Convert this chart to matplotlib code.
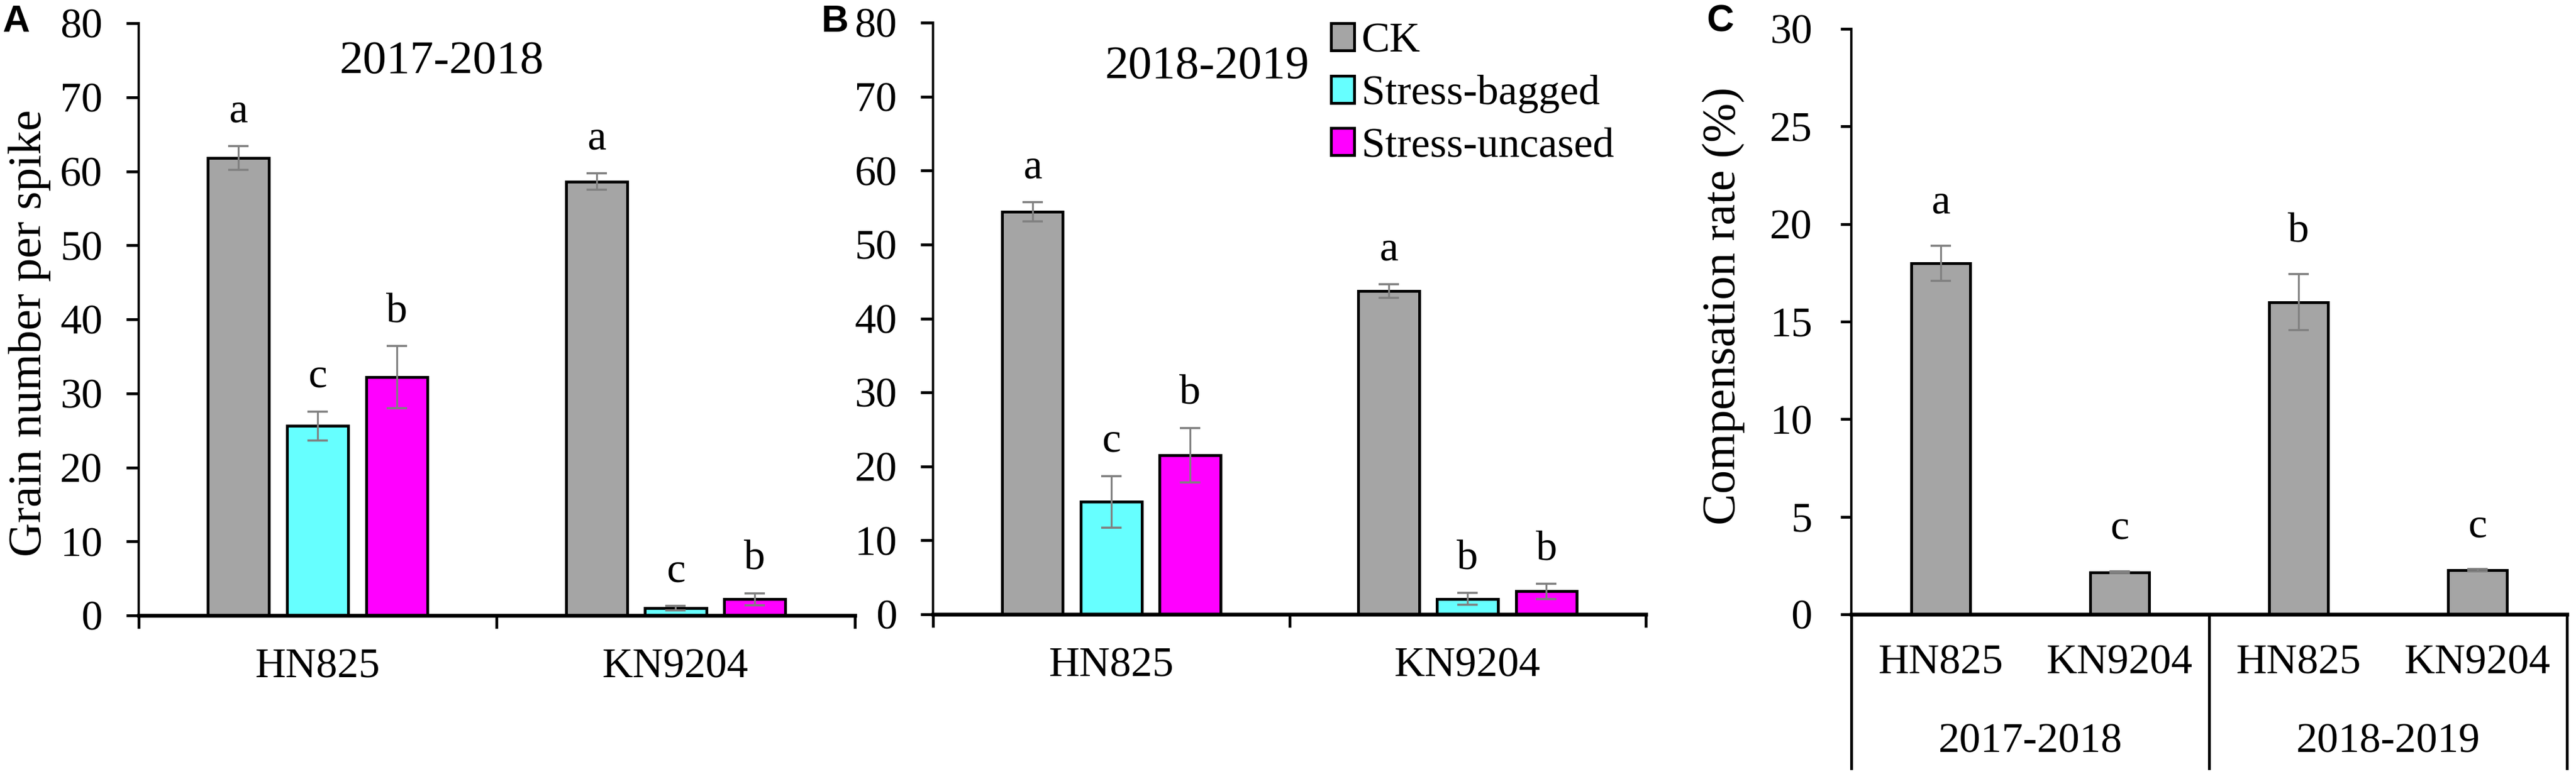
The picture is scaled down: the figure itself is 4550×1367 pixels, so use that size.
import numpy as np
import matplotlib
matplotlib.use("Agg")
import matplotlib.pyplot as plt

plt.rcParams["font.family"] = ["Liberation Serif", "DejaVu Serif"]

varieties = ["HN825", "KN9204"]
treatments = ["CK", "Stress-bagged", "Stress-uncased"]
colors = ["#a5a5a5", "#66ffff", "#ff00ff"]

# grain number per spike, 2017-2018
ck_1718 = [61.8, 58.6]
ck_1718_err = [1.6, 1.1]
bag_1718 = [25.6, 1.0]
bag_1718_err = [1.95, 0.3]
unc_1718 = [32.2, 2.2]
unc_1718_err = [4.2, 0.8]
ck_1718_let = ["a", "a"]
bag_1718_let = ["c", "c"]
unc_1718_let = ["b", "b"]

# grain number per spike, 2018-2019
ck_1819 = [54.4, 43.7]
ck_1819_err = [1.3, 0.9]
bag_1819 = [15.2, 2.1]
bag_1819_err = [3.5, 0.8]
unc_1819 = [21.5, 3.1]
unc_1819_err = [3.7, 1.0]
ck_1819_let = ["a", "a"]
bag_1819_let = ["c", "b"]
unc_1819_let = ["b", "b"]

# compensation rate
years = ["2017-2018", "2018-2019"]
comp = [18.0, 2.16, 16.0, 2.26]
comp_err = [0.9, 0.05, 1.45, 0.05]
comp_let = ["a", "c", "b", "c"]

TICK_FS = 18
err_kw = dict(ecolor="#808080", elinewidth=0.8, capsize=4.4, capthick=0.9)


def style_axes(ax):
    for s in ["top", "right"]:
        ax.spines[s].set_visible(False)
    ax.spines["left"].set_linewidth(1.0)
    ax.spines["bottom"].set_linewidth(1.6)
    ax.tick_params(axis="y", direction="out", length=5.3, width=1.2,
                   pad=10, labelsize=TICK_FS)


def grain_panel(ax, series, errs, lets, title, title_pos):
    x = np.arange(len(varieties))
    offs = [-0.221, 0, 0.221]
    for vals, err, let, off, col, name in zip(series, errs, lets, offs, colors, treatments):
        ax.bar(x + off, vals, 0.171, color=col, edgecolor="black",
               linewidth=1.2, label=name, zorder=2)
        ax.errorbar(x + off, vals, yerr=err, fmt="none", zorder=3, **err_kw)
        for xi, v, e, l in zip(x + off, vals, err, let):
            ax.annotate(l, (xi, v + e), xytext=(0, 10.3), textcoords="offset points",
                        ha="center", va="baseline", fontsize=TICK_FS)
    ax.set_xlim(-0.5, 1.5)
    ax.set_ylim(0, 80)
    ax.set_yticks(range(0, 81, 10))
    ax.set_xticks([-0.5, 0.5, 1.5])
    ax.set_xticklabels([])
    ax.set_xticks(x, minor=True)
    ax.set_xticklabels(varieties, minor=True)
    ax.tick_params(axis="x", which="major", direction="out", length=5.5, width=1.2)
    ax.tick_params(axis="x", which="minor", length=0, pad=14, labelsize=TICK_FS)
    style_axes(ax)
    ax.text(title_pos[0], title_pos[1], title, transform=ax.transAxes,
            ha="center", va="center", fontsize=20)


fig = plt.figure(figsize=(4550 / 300, 1367 / 300), dpi=300)

axA = fig.add_axes([0.0538, 0.2048, 0.2780, 0.7652])
grain_panel(axA, [ck_1718, bag_1718, unc_1718],
            [ck_1718_err, bag_1718_err, unc_1718_err],
            [ck_1718_let, bag_1718_let, unc_1718_let],
            "2017-2018", (0.423, 0.935))
axA.set_ylabel("Grain number per spike", fontsize=20)
axA.yaxis.set_label_coords(-0.1225, 0.477)

axB = fig.add_axes([0.3622, 0.2063, 0.2767, 0.7644])
grain_panel(axB, [ck_1819, bag_1819, unc_1819],
            [ck_1819_err, bag_1819_err, unc_1819_err],
            [ck_1819_let, bag_1819_let, unc_1819_let],
            "2018-2019", (0.384, 0.925))
axB.legend(loc="upper left", bbox_to_anchor=(0.558, 1.0), frameon=False,
           fontsize=TICK_FS, handlelength=0.55, handleheight=0.6,
           handletextpad=0.17, labelspacing=0.33, borderpad=0, borderaxespad=0)

axC = fig.add_axes([0.7187, 0.2063, 0.2778, 0.7564])
xc = np.arange(len(comp))
axC.bar(xc, comp, 0.33, color=colors[0], edgecolor="black", linewidth=1.2, zorder=2)
axC.errorbar(xc, comp, yerr=comp_err, fmt="none", zorder=3, **err_kw)
for xi, v, e, l in zip(xc, comp, comp_err, comp_let):
    axC.annotate(l, (xi, v + e), xytext=(0, 13.7), textcoords="offset points",
                 ha="center", va="baseline", fontsize=TICK_FS)
axC.set_xlim(-0.5, 3.5)
axC.set_ylim(0, 30)
axC.set_yticks(range(0, 31, 5))
axC.set_xticks([])
style_axes(axC)
axC.tick_params(axis="y", pad=12, length=4.6)
axC.set_ylabel("Compensation rate (%)", fontsize=20)
axC.yaxis.set_label_coords(-0.149, 0.527)

trans = axC.get_xaxis_transform()
for xi, name in zip(xc, varieties * 2):
    axC.text(xi, -0.084, name, transform=trans, ha="center", va="center",
             fontsize=TICK_FS)
for i, yr in enumerate(years):
    axC.text(2 * i + 0.5, -0.218, yr, transform=trans, ha="center", va="center",
             fontsize=TICK_FS)
for xb in [-0.5, 1.5, 3.5]:
    axC.plot([xb, xb], [0, -0.263], transform=trans, color="black",
             linewidth=1.2, clip_on=False)

for lab, px in zip(["A", "B", "C"], [28, 1475, 3038]):
    fig.text(px / 4550, 1 - 39 / 1367, lab, ha="center", va="center",
             fontsize=16, fontweight="bold", family="Liberation Sans")

fig.savefig("out.png", dpi=300)
